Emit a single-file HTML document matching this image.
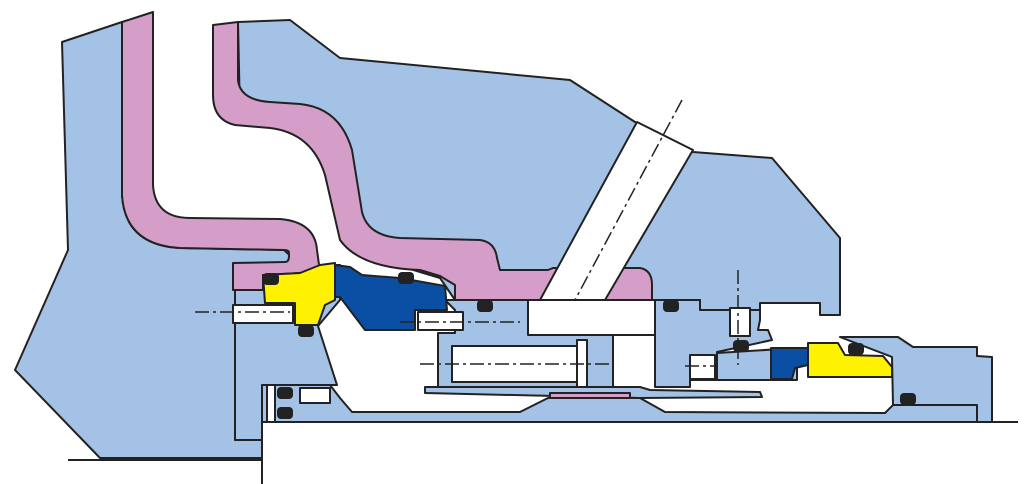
<!DOCTYPE html>
<html><head><meta charset="utf-8"><style>
html,body{margin:0;padding:0;background:#fff;width:1024px;height:484px;overflow:hidden}
svg{display:block}
</style></head><body>
<svg width="1024" height="484" viewBox="0 0 1024 484" xmlns="http://www.w3.org/2000/svg">
<g stroke="#222" stroke-width="2" stroke-linejoin="round">
<polygon fill="#a4c2e6" points="238,22 290,20 340,58 570,80 635,122 693,152 772,158 840,238 840,315 820,315 820,303 760,303 760,310 700,310 700,300 540,300 455,300 440,278 420,272 365,255 345,235 335,175 318,138 275,126 240,115"/>
<path fill="#a4c2e6" d="M62,42 L122,22 L122,195 Q125,245 180,248 L284,250 L300,265 L235,265 L235,440 L262,440 L262,458 L100,458 L15,370 L68,250 Z"/>
<polygon fill="#a4c2e6" points="235,265 340,265 340,300 318,326 337,385 262,385 262,440 235,440"/>
<path fill="#d49ec8" d="M122,22 L153,12 L153,185 Q155,218 190,218 L280,219 Q315,222 317,250 L320,272 L263,275 L263,290 L233,290 L233,263 L285,262 Q289,262 289,256 L289,253 Q289,250 284,250 L180,248 Q125,245 122,195 Z"/>
<path fill="#d49ec8" d="M213,25 L238,22 L238,80 Q240,100 270,102 L300,104 Q340,108 352,150 L362,212 Q368,236 400,238 L480,240 Q495,242 497,258 L500,270 L548,270 L553,268 L640,268 Q652,270 652,285 L652,300 L455,300 L455,285 L440,276 L420,270 Q360,268 340,240 L325,175 Q312,133 270,128 L235,125 Q213,120 213,95 Z"/>
<polygon fill="#fff" points="637,122 693,150 605,300 540,300"/>
<rect x="528" y="300" width="127" height="35" fill="#fff"/>
<polygon fill="#a4c2e6" points="445,300 528,300 528,335 613,335 613,387 438,387 438,333 455,333 455,310"/>
<rect x="452" y="346" width="125" height="36" fill="#fff"/>
<rect x="577" y="340" width="10" height="47" fill="#fff"/>
<polygon fill="#a4c2e6" points="655,300 700,300 700,310 760,310 760,320 758,330 768,330 772,340 717,352 717,380 690,380 690,387 655,387"/>
<rect x="690" y="355" width="25" height="24" fill="#fff"/>
<rect x="730" y="308" width="20" height="28" fill="#fff"/>
<polygon fill="#a4c2e6" points="717,353 797,348 797,380 717,380"/>
<polygon fill="#a4c2e6" points="425,387 640,387 650,390 760,392 762,397 640,398 425,393"/>
<rect x="550" y="393" width="80" height="5" fill="#d49ec8"/>
<polygon fill="#a4c2e6" points="262,385 330,385 340,398 352,412 520,412 548,398 640,398 665,412 885,413 895,403 977,403 977,422 262,422"/>
<polygon fill="#a4c2e6" points="840,337 898,337 913,347 977,347 977,356 992,357 992,422 977,422 977,405 893,405 892,357"/>
<polygon fill="#fff200" points="263,275 300,273 320,265 335,263 335,300 325,305 318,325 295,325 295,303 265,303"/>
<polygon fill="#0a4fa3" points="335,265 350,267 362,275 400,278 445,286 447,310 415,310 415,330 365,330 340,297 335,297"/>
<rect x="233" y="305" width="60" height="18" fill="#fff"/>
<rect x="418" y="312" width="45" height="18" fill="#fff"/>
<rect x="300" y="388" width="30" height="15" fill="#fff"/>
<rect x="267" y="385" width="8" height="37" fill="#fff"/>
<polygon fill="#0a4fa3" points="771,348 808,348 808,365 795,368 792,379 771,379"/>
<polygon fill="#fff200" points="808,343 838,343 845,355 883,356 892,367 892,377 808,377"/>
</g>
<g fill="#222">
<rect x="263" y="273" width="16" height="12" rx="4"/>
<rect x="298" y="325" width="16" height="12" rx="4"/>
<rect x="398" y="272" width="16" height="12" rx="4"/>
<rect x="477" y="300" width="16" height="12" rx="4"/>
<rect x="663" y="300" width="16" height="12" rx="4"/>
<rect x="733" y="340" width="16" height="12" rx="4"/>
<rect x="848" y="343" width="16" height="12" rx="4"/>
<rect x="900" y="393" width="16" height="12" rx="4"/>
<rect x="277" y="387" width="16" height="12" rx="4"/>
<rect x="277" y="407" width="16" height="12" rx="4"/>
</g>
<g stroke="#222" stroke-width="2" fill="none">
<line x1="262" y1="422" x2="1018" y2="422"/>
<line x1="262" y1="422" x2="262" y2="484"/>
<line x1="68" y1="460" x2="262" y2="460"/>
</g>
<g stroke="#222" stroke-width="1.5" stroke-dasharray="14,4,3,4" fill="none">
<line x1="195" y1="312" x2="290" y2="312"/>
<line x1="400" y1="322" x2="520" y2="322"/>
<line x1="420" y1="364" x2="610" y2="364"/>
<line x1="738" y1="270" x2="738" y2="365"/>
<line x1="685" y1="366" x2="715" y2="366"/>
<line x1="682" y1="100" x2="575" y2="300"/>
</g>
</svg>
</body></html>
